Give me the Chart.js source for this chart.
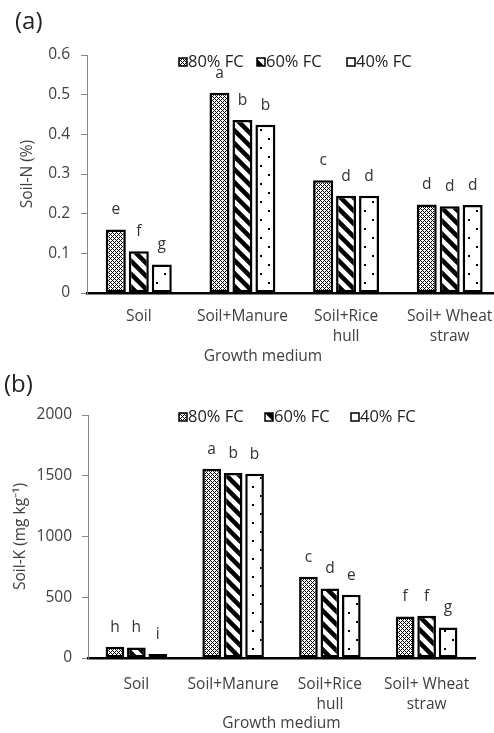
<!DOCTYPE html>
<html>
<head>
<meta charset="utf-8">
<script src="https://cdn.jsdelivr.net/npm/chart.js@4.4.1/dist/chart.umd.min.js"></script>
<style>
html, body { margin: 0; padding: 0; overflow: hidden; background: #fff; }
canvas { display: block; }
</style>
</head>
<body>
<canvas id="chartN" width="510" height="366"></canvas>
<canvas id="chartK" width="510" height="367"></canvas>
<script>
var categories = ['Soil', 'Soil+Manure', ['Soil+Rice', 'hull'], ['Soil+ Wheat', 'straw']];
var seriesNames = ['80% FC', '60% FC', '40% FC'];

// panel (a) soil N (%)
var soilN80 = [0.160, 0.505, 0.284, 0.223];
var soilN60 = [0.105, 0.436, 0.245, 0.219];
var soilN40 = [0.072, 0.424, 0.245, 0.222];
var lettersN80 = ['e', 'a', 'c', 'd'];
var lettersN60 = ['f', 'b', 'd', 'd'];
var lettersN40 = ['g', 'b', 'd', 'd'];

// panel (b) soil K (mg/kg)
var soilK80 = [93, 1558, 669, 342];
var soilK60 = [87, 1523, 573, 348];
var soilK40 = [33, 1517, 521, 252];
var lettersK80 = ['h', 'a', 'c', 'f'];
var lettersK60 = ['h', 'b', 'd', 'f'];
var lettersK40 = ['i', 'b', 'e', 'g'];

var FONT = '"Open Sans", sans-serif';
var TEXT = '#404040';

function makePattern(kind) {
    var c = document.createElement('canvas');
    var g = c.getContext('2d');
    if (kind == 'hatch') {
        c.width = 4; c.height = 4;
        g.fillStyle = '#fff';
        g.fillRect(0, 0, 4, 4);
        g.fillStyle = '#000';
        for (var x = 0; x < 4; x++) {
            for (var y = 0; y < 4; y++) {
                if ((x + y) % 4 == 0 || (x - y + 4) % 4 == 0) g.fillRect(x, y, 1, 1);
            }
        }
    } else if (kind == 'stripe') {
        c.width = 13; c.height = 13;
        g.fillStyle = '#fff';
        g.fillRect(0, 0, 13, 13);
        g.strokeStyle = '#000';
        g.lineWidth = 4.5;
        g.beginPath();
        for (var o = -13; o <= 13; o += 13) {
            g.moveTo(o - 2, -2);
            g.lineTo(o + 15, 15);
        }
        g.stroke();
    } else {
        c.width = 16; c.height = 18;
        g.fillStyle = '#fff';
        g.fillRect(0, 0, 16, 18);
        g.fillStyle = '#000';
        g.fillRect(4, 3, 2, 2);
        g.fillRect(12, 12, 2, 2);
    }
    return g.createPattern(c, 'repeat');
}

var patterns = [makePattern('hatch'), makePattern('stripe'), makePattern('dots')];

var annotPlugin = {
    id: 'annot',
    afterDatasetsDraw: function(chart, args, opts) {
        var ctx = chart.ctx;
        var area = chart.chartArea;
        ctx.save();
        ctx.font = '15.5px ' + FONT;
        ctx.fillStyle = '#333';
        ctx.textAlign = 'center';
        ctx.textBaseline = 'middle';
        chart.data.datasets.forEach(function(ds, i) {
            chart.getDatasetMeta(i).data.forEach(function(bar, j) {
                ctx.fillText(ds.letters[j], bar.x, bar.y - 19.5);
            });
        });

        // x axis title
        ctx.fillStyle = TEXT;
        var tx = opts.xTitleX != null ? opts.xTitleX : (area.left + area.right) / 2;
        ctx.fillText('Growth medium', tx, opts.xTitleY);

        // legend inside the plot
        ctx.font = '16.5px ' + FONT;
        ctx.textAlign = 'left';
        chart.data.datasets.forEach(function(ds, i) {
            var x = opts.legendX[i], y = opts.legendY;
            ctx.fillStyle = ds.backgroundColor;
            ctx.fillRect(x, y - 4, 8, 8);
            ctx.strokeStyle = '#000';
            ctx.lineWidth = 1.5;
            ctx.strokeRect(x, y - 4, 8, 8);
            ctx.fillStyle = '#222';
            ctx.fillText(ds.label, x + 9, y);
        });

        ctx.font = '24px ' + FONT;
        ctx.fillStyle = '#222';
        ctx.fillText(opts.panel, opts.panelX, opts.panelY);
        ctx.restore();
    }
};

function makeConfig(s80, s60, s40, l80, l60, l40, yOpts, layout) {
    var series = [s80, s60, s40];
    var letters = [l80, l60, l40];
    var datasets = [];
    for (var i = 0; i < 3; i++) {
        datasets.push({
            label: seriesNames[i],
            data: series[i],
            letters: letters[i],
            backgroundColor: patterns[i],
            borderColor: '#000',
            borderWidth: 2.5,
            borderSkipped: false,
            categoryPercentage: 0.665,
            barPercentage: 0.87
        });
    }
    return {
        type: 'bar',
        data: { labels: categories, datasets: datasets },
        plugins: [annotPlugin],
        options: {
            responsive: false,
            animation: false,
            layout: { padding: layout.padding },
            plugins: {
                legend: { display: false },
                tooltip: { enabled: false },
                annot: layout.annot
            },
            scales: {
                x: {
                    ticks: { color: TEXT, font: { family: FONT, size: 15.5, lineHeight: 1.29 }, padding: layout.xPad, maxRotation: 0, autoSkip: false },
                    grid: { display: false, drawTicks: false },
                    border: { display: true, color: '#000', width: 2.5 },
                    afterFit: function(s) { s.height = layout.xHeight; }
                },
                y: {
                    min: 0,
                    max: yOpts.max,
                    ticks: {
                        stepSize: yOpts.step, color: TEXT, font: { family: FONT, size: 15.5 }, padding: yOpts.tickPad,
                        callback: function(v) { return String(Math.round(v * 10) / 10); }
                    },
                    grid: { display: true, drawOnChartArea: false, drawTicks: true, tickLength: 6, color: '#868686' },
                    border: { display: true, color: '#868686', width: 1 },
                    title: { display: true, text: yOpts.title, color: TEXT, font: { family: FONT, size: 15.5 }, padding: { top: yOpts.titlePad, bottom: 0 } },
                    afterFit: function(s) { s.width = yOpts.width; }
                }
            }
        }
    };
}

new Chart(document.getElementById('chartN'), makeConfig(
    soilN80, soilN60, soilN40, lettersN80, lettersN60, lettersN40,
    { max: 0.6, step: 0.1, title: 'Soil-N (%)', width: 87, tickPad: 11, titlePad: 18 },
    { padding: { top: 55, right: 8.5, bottom: 0, left: 0 }, xHeight: 73, xPad: 14,
      annot: { legendX: [179, 257, 347], legendY: 62, panel: '(a)', panelX: 15, panelY: 22, xTitleX: 263, xTitleY: 357 } }
));

new Chart(document.getElementById('chartK'), makeConfig(
    soilK80, soilK60, soilK40, lettersK80, lettersK60, lettersK40,
    { max: 2000, step: 500, title: 'Soil-K (mg kg⁻¹)', width: 88, tickPad: 10, titlePad: 11 },
    { padding: { top: 49, right: 35, bottom: 0, left: 0 }, xHeight: 75, xPad: 17,
      annot: { legendX: [179, 265, 351], legendY: 51, panel: '(b)', panelX: 4, panelY: 19, xTitleX: null, xTitleY: 358 } }
));
</script>
</body>
</html>
